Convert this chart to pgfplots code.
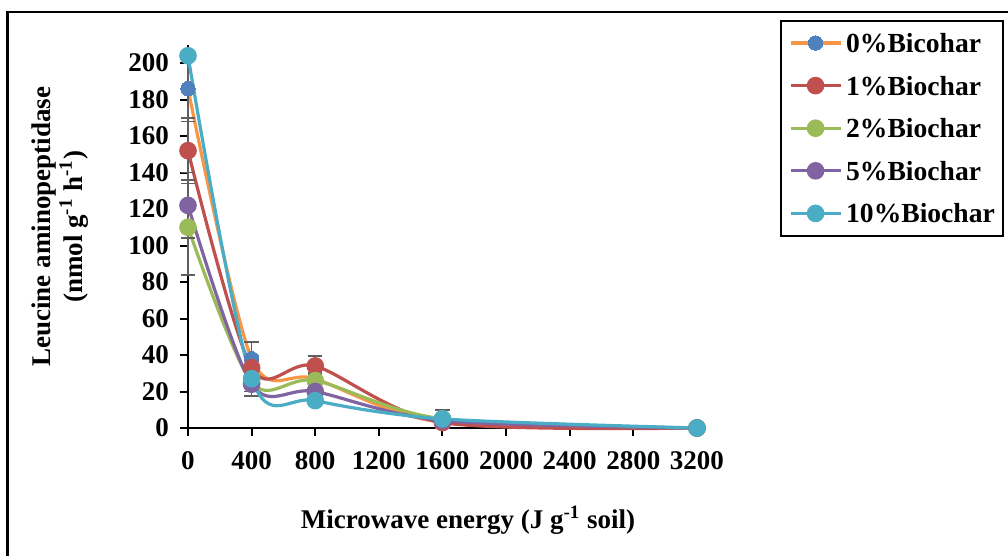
\documentclass[border=0pt]{standalone}
\usepackage{fontspec}
\setmainfont{Liberation Serif}
\usepackage{pgfplots}
\pgfplotsset{compat=1.18}
\definecolor{corange}{HTML}{F79646}
\definecolor{cblue}{HTML}{4F81BD}
\definecolor{cred}{HTML}{C0504D}
\definecolor{cgreen}{HTML}{9BBB59}
\definecolor{cpurple}{HTML}{8064A2}
\definecolor{ccyan}{HTML}{4BACC6}
\definecolor{errgray}{RGB}{95,95,95}
\pgfplotstableread{
x y e
0 186 18
400 38 9
800 27 3
1600 3 2
3200 0 0
}\tzero
\pgfplotstableread{
x y e
0 152 18
400 33 4
800 34 5.5
1600 3 2
3200 0 0
}\tone
\pgfplotstableread{
x y e
0 110 26
400 25 7.5
800 26 3
1600 5 2
3200 0 0
}\ttwo
\pgfplotstableread{
x y e
0 122 18
400 24 4
800 20 3
1600 4 2
3200 0 0
}\tfive
\pgfplotstableread{
x y e
0 204 0
400 27 4
800 15 2
1600 5 5
3200 0 0
}\tten
\begin{document}
\begin{tikzpicture}
\useasboundingbox (0,0) rectangle (504pt,-278pt);
\draw[line width=1.3pt] (3.6pt,-278pt) -- (3.6pt,-6pt) -- (504pt,-6pt);
\begin{axis}[
  scale only axis, width=254.5pt, height=191.6pt,
  at={(94pt,-214pt)}, anchor=south west,
  xmin=0, xmax=3200, ymin=0, ymax=210,
  axis x line=bottom, axis y line=left,
  axis line style={-, line width=1pt},
  xtick={0,400,...,3200}, ytick={0,20,...,200},
  tick align=outside, major tick length=4pt,
  tick style={black, line width=1pt},
  ticklabel style={font=\fontsize{13.5}{16}\selectfont\bfseries},
  xticklabel style={yshift=-4pt},
  yticklabel style={xshift=-2pt},
  /pgf/number format/assume math mode=true,
  /pgf/number format/1000 sep={},
  clip=false,
  xlabel={Microwave energy (J g\textsuperscript{-1} soil)},
  xlabel style={at={(axis description cs:0.55,-0.24)}, anchor=center, font=\fontsize{13.5}{16}\selectfont\bfseries},
  ylabel={Leucine aminopeptidase\\(nmol g\textsuperscript{-1} h\textsuperscript{-1})},
  ylabel style={at={(axis description cs:-0.2515,0.525)}, anchor=center, align=center, font=\fontsize{13.5}{16}\selectfont\bfseries},
  legend style={at={(axis description cs:1.163,1.066)}, anchor=north west,
    draw=black, line width=1pt, inner xsep=4pt, inner ysep=6.5pt,
    font=\fontsize{13.8}{16}\selectfont\bfseries, row sep=11.8pt, column sep=2pt,
    nodes={inner xsep=0pt, inner ysep=0pt, text height=9.5pt, text depth=0pt}},
  legend cell align=left,
  legend image code/.code={\draw[mark repeat=2,mark phase=2,#1] plot coordinates {(0pt,0pt) (12.5pt,0pt) (25pt,0pt)};},
  every axis plot/.append style={line width=1.6pt, smooth, tension=0.5, mark=*, mark size=3.6pt,
    error bars/y dir=both, error bars/y explicit,
    error bars/error bar style={errgray, line width=0.8pt, solid},
    error bars/error mark options={rotate=90, mark size=3.6pt, errgray, line width=0.8pt}},
]
\addplot[color=corange, mark options={fill=cblue, draw=cblue, line width=0pt}] table[x=x, y=y, y error=e] {\tzero};
\addlegendentry{0\%Bicohar}
\addplot[color=cred, mark options={fill=cred, draw=cred}] table[x=x, y=y, y error=e] {\tone};
\addlegendentry{1\%Biochar}
\addplot[color=cgreen, mark options={fill=cgreen, draw=cgreen}] table[x=x, y=y, y error=e] {\ttwo};
\addlegendentry{2\%Biochar}
\addplot[color=cpurple, mark options={fill=cpurple, draw=cpurple}] table[x=x, y=y, y error=e] {\tfive};
\addlegendentry{5\%Biochar}
\addplot[color=ccyan, mark options={fill=ccyan, draw=ccyan}] table[x=x, y=y, y error=e] {\tten};
\addlegendentry{10\%Biochar}
\end{axis}
\end{tikzpicture}
\end{document}
